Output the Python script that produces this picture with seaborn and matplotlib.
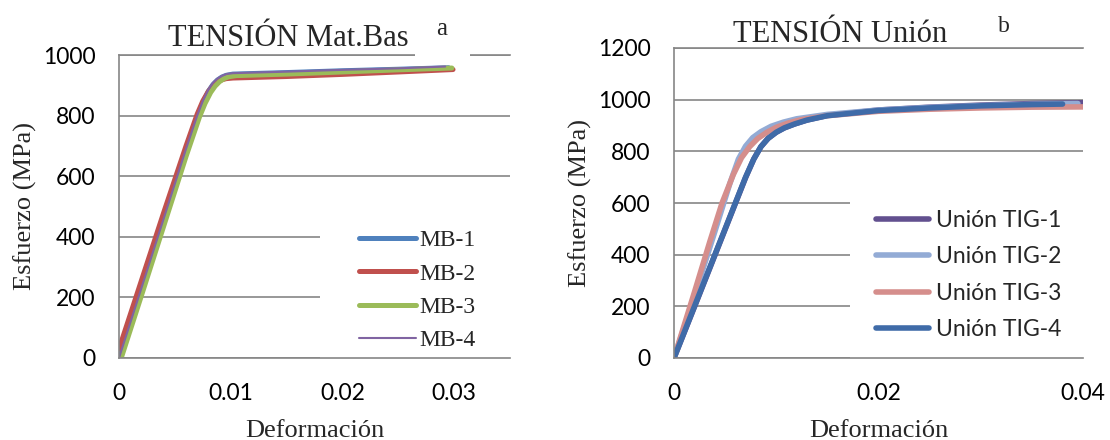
import matplotlib
matplotlib.use("Agg")
import matplotlib.pyplot as plt
from matplotlib.patches import Rectangle
import seaborn as sns
import pandas as pd

# ---- Base material tensile curves (strain, stress MPa) ----
mb1_strain = [0.0, 0.002, 0.004, 0.006, 0.0070, 0.0075, 0.0080, 0.0084, 0.0088, 0.0092, 0.0096, 0.0102, 0.015, 0.020, 0.025, 0.0295]
mb1_stress = [0, 225, 455, 685, 795, 843, 880, 902, 917, 927, 933, 937, 942, 948, 953, 958]
mb2_strain = [0.0, 0.002, 0.004, 0.006, 0.0070, 0.0075, 0.0080, 0.0084, 0.0088, 0.0092, 0.0096, 0.0102, 0.015, 0.020, 0.025, 0.0299]
mb2_stress = [30, 255, 480, 700, 805, 848, 880, 898, 910, 918, 922, 924, 929, 936, 944, 952]
mb3_strain = [0.0002, 0.002, 0.004, 0.006, 0.0072, 0.0077, 0.0082, 0.0086, 0.0090, 0.0094, 0.0098, 0.0105, 0.015, 0.020, 0.025, 0.0298]
mb3_stress = [0, 205, 435, 665, 795, 840, 876, 897, 912, 922, 928, 932, 937, 944, 951, 957]
mb4_strain = [0.0, 0.002, 0.004, 0.006, 0.0070, 0.0075, 0.0080, 0.0084, 0.0088, 0.0092, 0.0096, 0.0102, 0.015, 0.020, 0.025, 0.0292]
mb4_stress = [0, 230, 460, 690, 800, 848, 886, 908, 922, 931, 937, 940, 945, 951, 956, 962]

# ---- TIG welded joint tensile curves ----
tig1_strain = [0.0, 0.002, 0.004, 0.006, 0.007, 0.0078, 0.0085, 0.0092, 0.0100, 0.0108, 0.0118, 0.013, 0.015, 0.020, 0.025, 0.030, 0.035, 0.040]
tig1_stress = [0, 198, 398, 598, 698, 770, 818, 850, 874, 891, 906, 921, 939, 960, 971, 979, 985, 988]
tig2_strain = [0.0, 0.002, 0.004, 0.0055, 0.0063, 0.0070, 0.0077, 0.0085, 0.0095, 0.0107, 0.0120, 0.015, 0.020, 0.025, 0.030, 0.035, 0.0395]
tig2_stress = [0, 240, 490, 680, 770, 820, 853, 876, 897, 913, 926, 943, 960, 970, 977, 982, 985]
tig3_strain = [0.0, 0.002, 0.0035, 0.0047, 0.0058, 0.0066, 0.0074, 0.0082, 0.0091, 0.0100, 0.0112, 0.0125, 0.015, 0.020, 0.025, 0.030, 0.035, 0.040]
tig3_stress = [0, 255, 450, 600, 710, 775, 818, 850, 874, 893, 910, 923, 938, 955, 963, 968, 971, 972]
tig4_strain = [0.0, 0.002, 0.004, 0.006, 0.007, 0.0078, 0.0085, 0.0092, 0.0100, 0.0108, 0.0118, 0.013, 0.015, 0.020, 0.025, 0.030, 0.035, 0.038]
tig4_stress = [0, 200, 400, 600, 700, 770, 818, 850, 874, 891, 906, 921, 938, 958, 968, 976, 981, 983]

mb_labels = ["MB-1", "MB-2", "MB-3", "MB-4"]
tig_labels = ["Unión TIG-1", "Unión TIG-2", "Unión TIG-3", "Unión TIG-4"]

left_xticks = [0, 0.01, 0.02, 0.03]
left_xticklabels = ["0", "0.01", "0.02", "0.03"]
left_yticks = [0, 200, 400, 600, 800, 1000]
right_xticks = [0, 0.02, 0.04]
right_xticklabels = ["0", "0.02", "0.04"]
right_yticks = [0, 200, 400, 600, 800, 1000, 1200]

sns.set_style("white")
SERIF = ["Liberation Serif", "DejaVu Serif"]
SANS = ["Lato", "DejaVu Sans"]
plt.rcParams["font.family"] = SANS

GRID = "#868686"
W, H = 1110, 440

fig = plt.figure(figsize=(W / 100, H / 100), dpi=100)
axL = fig.add_axes([119 / W, 1 - 358 / H, (510 - 119) / W, (358 - 55) / H])
axR = fig.add_axes([674 / W, 1 - 358 / H, (1083 - 674) / W, (358 - 48) / H])


def series_frame(strain, stress):
    return pd.DataFrame({"strain": strain, "stress": stress})


left_series = [
    (mb1_strain, mb1_stress, "#4F81BD", 3.6),
    (mb2_strain, mb2_stress, "#C0504D", 3.6),
    (mb3_strain, mb3_stress, "#9BBB59", 3.6),
    (mb4_strain, mb4_stress, "#8064A2", 1.5),
]
right_series = [
    (tig1_strain, tig1_stress, "#62508F", 4.0),
    (tig2_strain, tig2_stress, "#93ABD5", 4.0),
    (tig3_strain, tig3_stress, "#D58E8C", 4.0),
    (tig4_strain, tig4_stress, "#3F6BA8", 4.0),
]

for ax, series, labels in ((axL, left_series, mb_labels), (axR, right_series, tig_labels)):
    for (sx, sy, col, lw), lab in zip(series, labels):
        sns.lineplot(data=series_frame(sx, sy), x="strain", y="stress", ax=ax,
                     color=col, lw=lw, label=lab, sort=False, estimator=None,
                     solid_capstyle="round", solid_joinstyle="round", legend=False)


def style_axes(ax, xlim, ylim, xticks, xticklabels, yticks):
    ax.set_xlim(*xlim)
    ax.set_ylim(*ylim)
    ax.set_xticks(xticks)
    ax.set_xticklabels(xticklabels)
    ax.set_yticks(yticks)
    ax.set_yticklabels([str(v) for v in yticks])
    ax.yaxis.grid(True, color=GRID, lw=1.2)
    ax.xaxis.grid(False)
    ax.set_axisbelow(True)
    for side in ("left", "bottom", "top"):
        ax.spines[side].set_color(GRID)
        ax.spines[side].set_linewidth(1.2)
    ax.spines["right"].set_visible(False)
    ax.tick_params(axis="both", length=0, labelsize=16.5, colors="black")
    ax.tick_params(axis="y", pad=17)
    ax.tick_params(axis="x", pad=18)
    ax.set_xlabel("Deformación", family=SERIF, fontsize=19)
    ax.set_ylabel("Esfuerzo (MPa)", family=SERIF, fontsize=19)


style_axes(axL, (0, 0.035), (0, 1000), left_xticks, left_xticklabels, left_yticks)
style_axes(axR, (0, 0.04), (0, 1200), right_xticks, right_xticklabels, right_yticks)

axL.xaxis.set_label_coords(0.5, -0.205)
axR.xaxis.set_label_coords(0.5, -0.2)
axL.yaxis.set_label_coords(-0.21, 0.5)
axR.yaxis.set_label_coords(-0.20, 0.5)

# white panels behind the legends
axL.add_patch(Rectangle((0.514, 0.0), 0.49, 0.47, transform=axL.transAxes,
                        facecolor="white", edgecolor="none", zorder=1))
axR.add_patch(Rectangle((0.430, 0.0), 0.575, 0.55, transform=axR.transAxes,
                        facecolor="white", edgecolor="none", zorder=1))

legL = axL.legend(loc="center left", bbox_to_anchor=(359 / W, 1 - 290.5 / H),
                  bbox_transform=fig.transFigure, frameon=False, borderpad=0,
                  borderaxespad=0, handlelength=2.4, handletextpad=0.15,
                  labelspacing=0.5, prop={"family": SERIF, "size": 17})
legR = axR.legend(loc="center left", bbox_to_anchor=(876 / W, 1 - 275 / H),
                  bbox_transform=fig.transFigure, frameon=False, borderpad=0,
                  borderaxespad=0, handlelength=2.3, handletextpad=0.3,
                  labelspacing=0.68, prop={"family": SANS, "size": 16.5})
for leg in (legL, legR):
    for h in leg.get_lines():
        h.set_solid_capstyle("round")

# titles and panel letters
fig.text(288 / W, 1 - 45.7 / H, "TENSIÓN Mat.Bas", family=SERIF, fontsize=22,
         ha="center", va="baseline")
fig.add_artist(Rectangle((415 / W, 1 - 62 / H), 55 / W, 20 / H, transform=fig.transFigure,
                         facecolor="white", edgecolor="none", zorder=4))
fig.text(442 / W, 1 - 35 / H, "a", family=SERIF, fontsize=18, ha="center",
         va="baseline", zorder=5)
fig.text(840 / W, 1 - 41.7 / H, "TENSIÓN Unión", family=SERIF, fontsize=22,
         ha="center", va="baseline")
fig.text(1004 / W, 1 - 32 / H, "b", family=SERIF, fontsize=17, ha="center",
         va="baseline")

fig.savefig("out.png", dpi=100, facecolor="white")
